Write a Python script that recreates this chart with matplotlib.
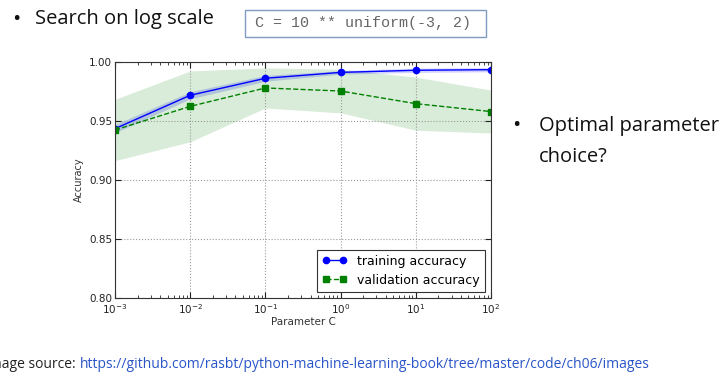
import numpy as np
import matplotlib.pyplot as plt
from matplotlib.patches import Rectangle

# values
param_range = [0.001, 0.01, 0.1, 1.0, 10.0, 100.0]
train_mean = [0.9435, 0.9718, 0.9862, 0.9912, 0.9930, 0.9935]
train_std = [0.0035, 0.0030, 0.0025, 0.0015, 0.0018, 0.0018]
test_mean = [0.9424, 0.9624, 0.9780, 0.9754, 0.9647, 0.9580]
test_std = [0.0260, 0.0300, 0.0170, 0.0185, 0.0225, 0.0182]

W, H = 723, 372
fig = plt.figure(figsize=(W / 100, H / 100), dpi=100)

# axes box in pixels: left 115, right 491, top 62, bottom 298
ax = fig.add_axes([115 / W, 1 - 298 / H, (491 - 115) / W, (298 - 62) / H])

tm, ts = np.array(train_mean), np.array(train_std)
vm, vs = np.array(test_mean), np.array(test_std)

ax.plot(param_range, tm, color="blue", marker="o", markersize=4.5,
        linewidth=1, label="training accuracy")
ax.fill_between(param_range, tm + ts, tm - ts, alpha=0.18, color="blue", linewidth=0)
ax.plot(param_range, vm, color="green", linestyle="--", marker="s", markersize=4,
        linewidth=1, label="validation accuracy")
ax.fill_between(param_range, vm + vs, vm - vs, alpha=0.15, color="green", linewidth=0)

ax.set_xscale("log")
ax.set_xlim(1e-3, 1e2)
ax.set_ylim(0.80, 1.00)
ax.set_yticks([0.80, 0.85, 0.90, 0.95, 1.00])
ax.grid(True, linestyle=":", color="#999999", linewidth=0.8)
ax.tick_params(which="both", direction="in", top=True, right=True, labelsize=7.5,
               colors="#222222", pad=2)
ax.tick_params(axis="x", pad=3)
ax.tick_params(which="major", length=4)
ax.tick_params(which="minor", length=2)
ax.set_xlabel("Parameter C", fontsize=7.5, color="#333333", labelpad=1)
ax.set_ylabel("Accuracy", fontsize=7, color="#333333", labelpad=4)
for s in ax.spines.values():
    s.set_color("#333333")
    s.set_linewidth(0.8)

leg = ax.legend(loc="lower right", fontsize=9, fancybox=False, framealpha=1,
                borderaxespad=0.5, handlelength=2.0, numpoints=2)
leg.get_frame().set_edgecolor("#333333")
leg.get_frame().set_linewidth(0.8)

# slide text around the chart
txt = dict(fontfamily="Open Sans", color="#111111")
fig.text(12 / W, 1 - 19 / H, "•", fontsize=16, va="center", **txt)
fig.text(35 / W, 1 - 19 / H, "Search on log scale", fontsize=14.5, va="center", **txt)

fig.patches.append(Rectangle((245 / W, 1 - 37 / H), (486 - 245) / W, 27 / H,
                             transform=fig.transFigure, fill=False,
                             edgecolor="#7f9cc0", linewidth=1))
fig.text(255 / W, 1 - 23.5 / H, "C = 10 ** uniform(-3, 2)", fontsize=10.8,
         fontfamily="Liberation Mono", color="#666666", va="center")

fig.text(512 / W, 1 - 126 / H, "•", fontsize=16, va="center", **txt)
fig.text(539 / W, 1 - 126 / H, "Optimal parameter", fontsize=14.5, va="center", **txt)
fig.text(539 / W, 1 - 157 / H, "choice?", fontsize=14.5, va="center", **txt)

# the reference crops the start of "Image source" at the left edge
fig.text(-15 / W, 1 - 365 / H, "Image source: ", fontsize=10, va="center",
         fontfamily="Open Sans", color="#222222")
fig.text(80 / W, 1 - 365 / H,
         "https://github.com/rasbt/python-machine-learning-book/tree/master/code/ch06/images",
         fontsize=10, va="center", fontfamily="Open Sans", color="#2a55c8")

fig.savefig("out.png", dpi=100)
